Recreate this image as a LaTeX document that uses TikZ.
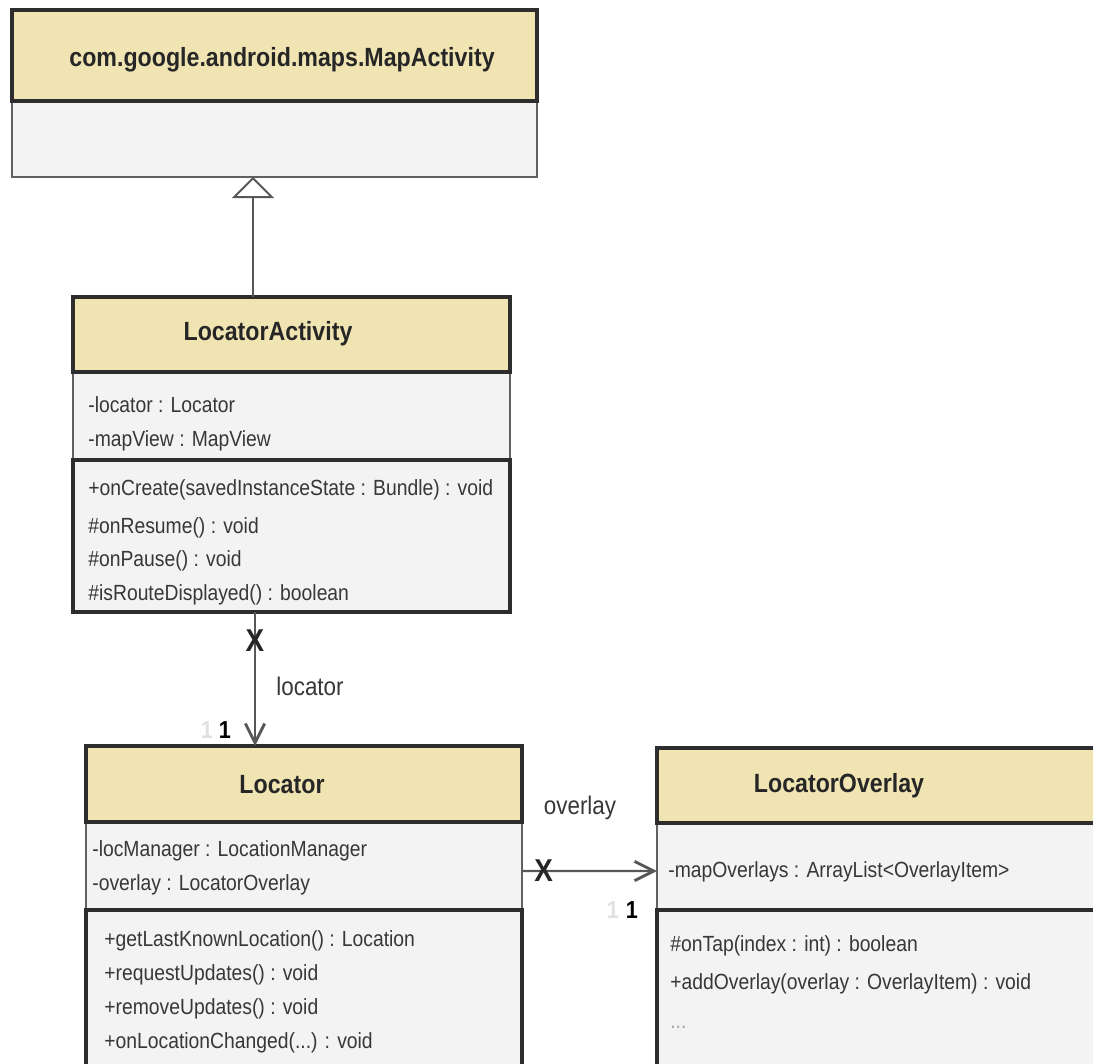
\documentclass[tikz,border=0pt]{standalone}
\usepackage{fontspec}
\setmainfont{Liberation Sans}
\newfontfamily\umlfont[FakeStretch=0.88]{Liberation Sans}
\usetikzlibrary{arrows.meta}

\definecolor{hdrfill}{RGB}{240,229,178}
\definecolor{boxfill}{RGB}{243,243,243}
\definecolor{edge}{RGB}{45,45,45}
\definecolor{ink}{RGB}{55,55,55}

\newcommand{\px}{0.02cm}

\tikzset{
  classhead/.style={rectangle, draw=edge, line width=2pt, fill=hdrfill, inner sep=0, outer sep=0},
  attrbox/.style={rectangle, draw=edge!75, line width=1.2pt, fill=boxfill, inner sep=0, outer sep=0},
  methbox/.style={rectangle, draw=edge, line width=1.8pt, fill=boxfill, inner sep=0, outer sep=0},
  title/.style={inner sep=0, font=\umlfont\bfseries\fontsize{15}{18}\selectfont, text=black!85},
  member/.style={anchor=base west, inner sep=0, font=\umlfont\fontsize{12.5}{15}\selectfont, text=ink},
  role/.style={inner sep=0, font=\umlfont\fontsize{14.5}{17}\selectfont, text=ink},
  mult/.style={inner sep=0, font=\umlfont\bfseries\fontsize{14}{17}\selectfont},
  assoc/.style={draw=edge!80, line width=1.2pt, -{Straight Barb[length=11pt,width=11pt,line width=1.6pt]}},
  inherit/.style={draw=edge!80, line width=1.2pt, -{Triangle[open, length=12pt, width=24pt, line width=1.1pt]}},
  xmark/.style={inner sep=0, font=\umlfont\bfseries\fontsize{18}{20}\selectfont, text=black!85}
}

\begin{document}
\begin{tikzpicture}[x=\px, y=-\px]

\useasboundingbox (0,0) rectangle (1093,1064);
\fill[white] (0,0) rectangle (1093,1064);
\clip (0,0) rectangle (1093,1064);

%%%%%% MapActivity %%%%%%%

\node[attrbox, minimum width=525*\px, minimum height=76*\px] (mapBody) at (274.5,139) {};
\node[classhead, minimum width=525*\px, minimum height=91*\px] (mapHead) at (274.5,55.5) {};
\node[title] (mapName) at (282,60) {com.google.android.maps.MapActivity};

%%%%%% LocatorActivity %%%%%%%

\node[attrbox, minimum width=437*\px, minimum height=88*\px] (actAttr) at (291.5,416) {};
\node[methbox, minimum width=437*\px, minimum height=152*\px] (actMeth) at (291.5,536) {};
\node[classhead, minimum width=437*\px, minimum height=75*\px] (actHead) at (291.5,334.5) {};
\node[title] (actName) at (268,334) {LocatorActivity};

\node[member] (actA1) at (88,413) {-locator : Locator};
\node[member] (actA2) at (88,447) {-mapView : MapView};

\node[member] (actM1) at (88,496) {+onCreate(savedInstanceState : Bundle) : void};
\node[member] (actM2) at (88,533) {\#onResume() : void};
\node[member] (actM3) at (88,566) {\#onPause() : void};
\node[member] (actM4) at (88,600) {\#isRouteDisplayed() : boolean};

%%%%%% Locator %%%%%%%

\node[attrbox, minimum width=436*\px, minimum height=88*\px] (locAttr) at (304,866) {};
\node[methbox, minimum width=436*\px, minimum height=160*\px] (locMeth) at (304,990) {};
\node[classhead, minimum width=436*\px, minimum height=76*\px] (locHead) at (304,784) {};
\node[title] (locName) at (282,785) {Locator};

\node[member] (locA1) at (92,856) {-locManager : LocationManager};
\node[member] (locA2) at (92,890) {-overlay : LocatorOverlay};

\node[member] (locM1) at (104,946) {+getLastKnownLocation() : Location};
\node[member] (locM2) at (104,980) {+requestUpdates() : void};
\node[member] (locM3) at (104,1014) {+removeUpdates() : void};
\node[member] (locM4) at (104,1048) {+onLocationChanged(...) : void};

%%%%%% LocatorOverlay %%%%%%%

\node[attrbox, minimum width=450*\px, minimum height=87*\px] (ovlAttr) at (882,866.5) {};
\node[methbox, minimum width=450*\px, minimum height=160*\px] (ovlMeth) at (882,990) {};
\node[classhead, minimum width=450*\px, minimum height=75*\px] (ovlHead) at (882,785.5) {};
\node[title] (ovlName) at (839,786) {LocatorOverlay};

\node[member] (ovlA1) at (668,877) {-mapOverlays : ArrayList<OverlayItem>};

\node[member] (ovlM1) at (670,951) {\#onTap(index : int) : boolean};
\node[member] (ovlM2) at (670,989) {+addOverlay(overlay : OverlayItem) : void};
\node[member, text=black!35] (ovlM3) at (670,1028) {...};

%%%%%% Connectors %%%%%%%

\draw[inherit] ([xshift=-38.5*\px]actHead.north) -- ([xshift=-21.5*\px]mapBody.south);

\draw[assoc] ([xshift=-36.5*\px]actMeth.south) -- node[xmark, pos=.21] (actX) {X}
  ([xshift=-49*\px]locHead.north);
\node[role, anchor=west] (locRole) at (276,686) {locator};
\node[mult, text=black!12] (locGhost) at (207,730) {1};
\node[mult] (locMult) at (225,730) {1};

\draw[assoc] ([yshift=-5*\px]locAttr.east) -- node[xmark, pos=.16] (locX) {X}
  ([yshift=-4.5*\px]ovlAttr.west);
\node[role] (ovlRole) at (580,808) {overlay};
\node[mult, text=black!12] (ovlGhost) at (613,910) {1};
\node[mult] (ovlMult) at (632,910) {1};

\end{tikzpicture}
\end{document}
